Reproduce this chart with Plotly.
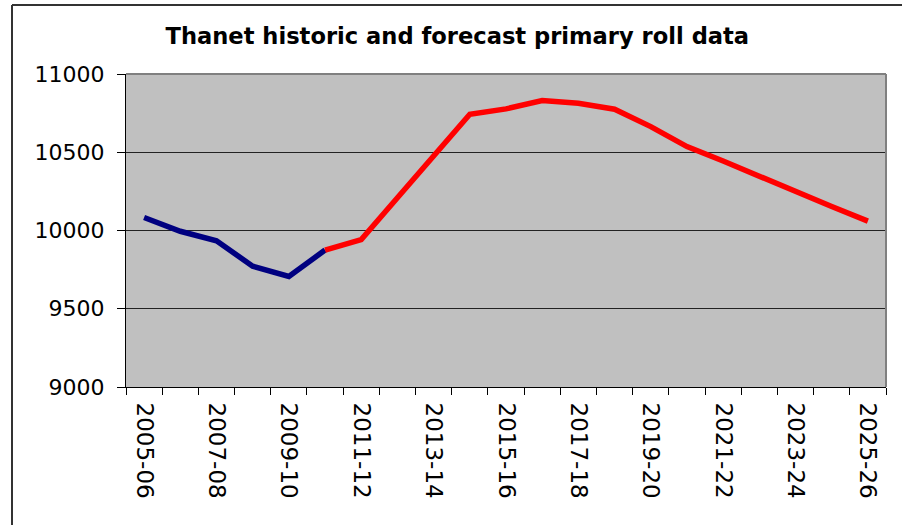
import plotly.graph_objects as go

# School years on the x axis
years = [
    "2005-06", "2006-07", "2007-08", "2008-09", "2009-10", "2010-11",
    "2011-12", "2012-13", "2013-14", "2014-15", "2015-16", "2016-17",
    "2017-18", "2018-19", "2019-20", "2020-21", "2021-22", "2022-23",
    "2023-24", "2024-25", "2025-26",
]

# Recorded primary roll, 2005-06 to 2010-11
historic = [10083, 9995, 9934, 9772, 9706, 9875]

# Forecast primary roll, 2010-11 to 2025-26
forecast = [9875, 9942, 10209, 10476, 10743, 10777, 10830, 10813,
            10775, 10664, 10536, 10444, 10344, 10248, 10153, 10060]

y_ticks = [9000, 9500, 10000, 10500, 11000]
y_tick_labels = ["9000", "9500", "10000", "10500", "11000"]

idx = list(range(len(years)))
hist_x = idx[:len(historic)]
fore_x = idx[len(historic) - 1:len(historic) - 1 + len(forecast)]

fig = go.Figure()
fig.add_trace(go.Scatter(
    x=hist_x, y=historic, mode="lines",
    line=dict(color="#000080", width=5.5),
    name="Historic",
))
fig.add_trace(go.Scatter(
    x=fore_x, y=forecast, mode="lines",
    line=dict(color="#FF0000", width=5.5),
    name="Forecast",
))

font_family = "DejaVu Sans"

fig.update_layout(
    width=902, height=525,
    margin=dict(l=126, r=16, t=74, b=138),
    paper_bgcolor="white",
    plot_bgcolor="#C0C0C0",
    showlegend=False,
    title=dict(
        text="<b>Thanet historic and forecast primary roll data</b>",
        x=0.507, xref="container", xanchor="center",
        y=1 - 36 / 525, yref="container", yanchor="middle",
        font=dict(family=font_family, size=22.6, color="black"),
    ),
    xaxis=dict(
        range=[-0.5, len(years) - 0.5],
        tickmode="array",
        tickvals=idx[::2],
        ticktext=years[::2],
        tickangle=90,
        ticks="",
        showgrid=False,
        zeroline=False,
        showline=True, linecolor="black", linewidth=1,
        tickfont=dict(family=font_family, size=23, color="black"),
        ticklabelstandoff=10,
        minor=dict(
            ticks="outside", tickmode="linear", tick0=-0.5, dtick=1,
            ticklen=7, tickcolor="black", tickwidth=1, showgrid=False,
        ),
    ),
    yaxis=dict(
        range=[y_ticks[0], y_ticks[-1]],
        tickmode="array",
        tickvals=y_ticks,
        ticktext=y_tick_labels,
        ticks="outside", ticklen=8, tickcolor="black",
        showgrid=True, gridcolor="#222222", gridwidth=1,
        zeroline=False,
        showline=True, linecolor="black", linewidth=1,
        tickfont=dict(family=font_family, size=22, color="black"),
        ticklabelstandoff=8,
    ),
    shapes=[
        # grey plot-area border on the top and right sides
        dict(type="line", xref="paper", yref="paper", x0=0, x1=1, y0=1, y1=1,
             line=dict(color="#808080", width=2), layer="above"),
        dict(type="line", xref="paper", yref="paper", x0=1, x1=1, y0=0, y1=1,
             line=dict(color="#808080", width=2), layer="above"),
        # chart frame (left and top edges)
        dict(type="line", xref="paper", yref="paper",
             x0=(12 - 126) / 760, x1=(12 - 126) / 760,
             y0=(387 - 540) / 313, y1=(387 - 5) / 313,
             line=dict(color="#333333", width=2)),
        dict(type="line", xref="paper", yref="paper",
             x0=(12 - 126) / 760, x1=(920 - 126) / 760,
             y0=(387 - 5) / 313, y1=(387 - 5) / 313,
             line=dict(color="#333333", width=2)),
    ],
)

fig.write_html("out.html")
